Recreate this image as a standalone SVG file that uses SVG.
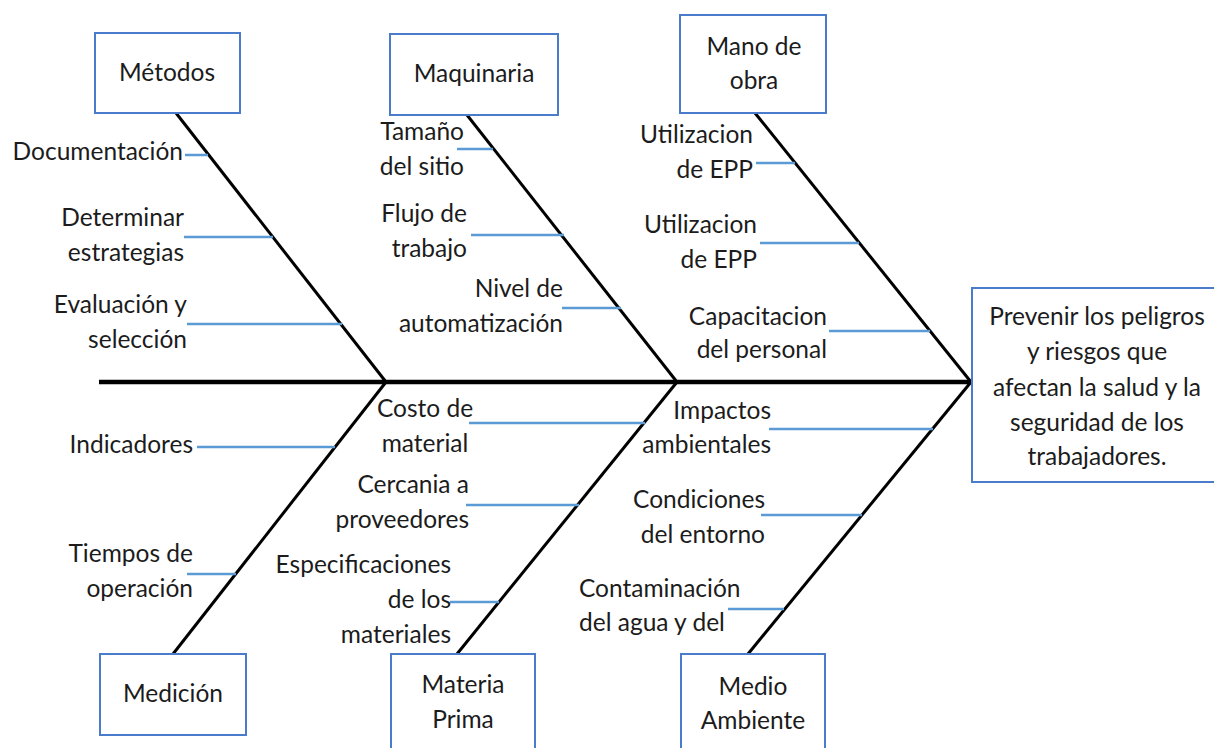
<svg xmlns="http://www.w3.org/2000/svg" width="1214" height="748" viewBox="0 0 1214 748">
<style>
text{font-family:"Lato","Liberation Sans",sans-serif;font-size:24.5px;fill:#1c1c1c}
.box{fill:#fff;stroke:#4a7ccb;stroke-width:2}
.bone{stroke:#000;stroke-width:3;fill:none}
.spine{stroke:#000;stroke-width:4.5;fill:none}
.sub{stroke:#5b9bd5;stroke-width:2.5;fill:none}
.c{text-anchor:middle}
.e{text-anchor:end}
</style>
<rect width="1214" height="748" fill="#fff"/>
<g id="connectors">
<line class="spine" x1="99" y1="382" x2="972" y2="382"/>
<line class="bone" x1="176" y1="113" x2="386" y2="382"/>
<line class="bone" x1="467" y1="115" x2="677" y2="382"/>
<line class="bone" x1="755" y1="113" x2="971" y2="382"/>
<line class="bone" x1="386" y1="382" x2="173" y2="654"/>
<line class="bone" x1="677" y1="382" x2="457" y2="654"/>
<line class="bone" x1="971" y1="382" x2="748" y2="654"/>
<line class="sub" x1="185" y1="155" x2="208" y2="155"/>
<line class="sub" x1="184" y1="237" x2="273" y2="237"/>
<line class="sub" x1="187" y1="324" x2="342" y2="324"/>
<line class="sub" x1="457" y1="149" x2="493" y2="149"/>
<line class="sub" x1="471" y1="235" x2="564" y2="235"/>
<line class="sub" x1="562" y1="308" x2="621" y2="308"/>
<line class="sub" x1="756" y1="163" x2="795" y2="163"/>
<line class="sub" x1="760" y1="243" x2="859" y2="243"/>
<line class="sub" x1="829" y1="331" x2="930" y2="331"/>
<line class="sub" x1="197" y1="447" x2="335" y2="447"/>
<line class="sub" x1="187" y1="574" x2="236" y2="574"/>
<line class="sub" x1="469" y1="423" x2="645" y2="423"/>
<line class="sub" x1="466" y1="505" x2="579" y2="505"/>
<line class="sub" x1="450" y1="602" x2="499" y2="602"/>
<line class="sub" x1="769" y1="429" x2="933" y2="429"/>
<line class="sub" x1="761" y1="515" x2="862" y2="515"/>
<line class="sub" x1="728" y1="609" x2="784" y2="609"/>
</g>
<g id="metodos"><rect class="box" x="95" y="33" width="145" height="80"/><text class="c" x="167" y="81">Métodos</text></g>
<g id="maquinaria"><rect class="box" x="390" y="34" width="168" height="81"/><text class="c" x="474" y="82">Maquinaria</text></g>
<g id="mano-de-obra"><rect class="box" x="680" y="15" width="146" height="98"/><text class="c" x="754" y="55">Mano de</text><text class="c" x="754" y="89">obra</text></g>
<g id="efecto"><rect class="box" x="972" y="288" width="250" height="194"/>
<text class="c" x="1097" y="325">Prevenir los peligros</text>
<text class="c" x="1097" y="360">y riesgos que</text>
<text class="c" x="1097" y="396">afectan la salud y la</text>
<text class="c" x="1097" y="431">seguridad de los</text>
<text class="c" x="1097" y="465">trabajadores.</text></g>
<g id="medicion"><rect class="box" x="100" y="654" width="146" height="81"/><text class="c" x="173" y="702">Medición</text></g>
<g id="materia-prima"><rect class="box" x="391" y="654" width="144" height="110"/><text class="c" x="463" y="693">Materia</text><text class="c" x="463" y="728">Prima</text></g>
<g id="medio-ambiente"><rect class="box" x="681" y="654" width="144" height="110"/><text class="c" x="753" y="695">Medio</text><text class="c" x="753" y="729">Ambiente</text></g>
<g id="labels-metodos">
<text class="e" x="183" y="160">Documentación</text>
<text class="e" x="184" y="226">Determinar</text>
<text class="e" x="184" y="261">estrategias</text>
<text class="e" x="187" y="313">Evaluación y</text>
<text class="e" x="187" y="348">selección</text>
</g>
<g id="labels-maquinaria">
<text class="e" x="464" y="140">Tamaño</text>
<text class="e" x="464" y="175">del sitio</text>
<text class="e" x="467" y="222">Flujo de</text>
<text class="e" x="467" y="257">trabajo</text>
<text class="e" x="563" y="297">Nivel de</text>
<text class="e" x="563" y="332">automatización</text>
</g>
<g id="labels-mano-de-obra">
<text class="e" x="753" y="143">Utilizacion</text>
<text class="e" x="753" y="178">de EPP</text>
<text class="e" x="757" y="233">Utilizacion</text>
<text class="e" x="757" y="268">de EPP</text>
<text class="e" x="827" y="325">Capacitacion</text>
<text class="e" x="827" y="358">del personal</text>
</g>
<g id="labels-medicion">
<text class="e" x="193" y="453">Indicadores</text>
<text class="e" x="193" y="562">Tiempos de</text>
<text class="e" x="193" y="597">operación</text>
</g>
<g id="labels-materia-prima">
<text class="c" x="425" y="417">Costo de</text>
<text class="c" x="425" y="452">material</text>
<text class="e" x="469" y="493">Cercania a</text>
<text class="e" x="469" y="528">proveedores</text>
<text class="e" x="451" y="573">Especificaciones</text>
<text class="e" x="451" y="608">de los</text>
<text class="e" x="451" y="643">materiales</text>
</g>
<g id="labels-medio-ambiente">
<text class="e" x="771" y="419">Impactos</text>
<text class="e" x="771" y="453">ambientales</text>
<text class="e" x="765" y="508">Condiciones</text>
<text class="e" x="765" y="543">del entorno</text>
<text x="579" y="597">Contaminación</text>
<text x="579" y="631">del agua y del</text>
</g>
</svg>
